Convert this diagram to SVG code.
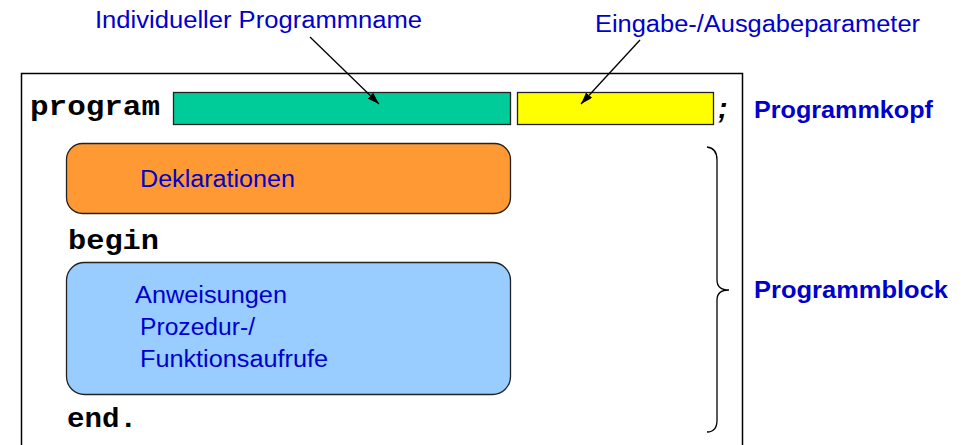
<svg xmlns="http://www.w3.org/2000/svg" width="971" height="445" viewBox="0 0 971 445">
  <style>
    .lbl { font-family: "Liberation Sans", Arial, sans-serif; font-size: 23.5px; fill: #0000cc; }
    .head { font-family: "Liberation Sans", Arial, sans-serif; font-size: 24px; font-weight: bold; fill: #0000cc; }
    .kw { font-family: "Liberation Mono", "Courier New", monospace; font-size: 28px; font-weight: bold; fill: #000; }
    .box { stroke: #222; stroke-width: 1.3; }
    .conn { stroke: #000; stroke-width: 1.3; fill: none; }
  </style>
  <defs>
    <marker id="arrow" viewBox="0 0 12 8" refX="12" refY="4" markerWidth="12" markerHeight="8" markerUnits="userSpaceOnUse" orient="auto">
      <path d="M0,0 L12,4 L0,8 z" fill="#000"/>
    </marker>
  </defs>

  <rect x="0" y="0" width="971" height="445" fill="#fff"/>

  <!-- program frame (open at the bottom) -->
  <g id="frame">
    <path d="M21.5,445 V73.5 H742.5 V445" fill="none" stroke="#000" stroke-width="1.5"/>
  </g>

  <!-- header line -->
  <g id="kw-program">
    <text class="kw" x="30" y="115" textLength="130" lengthAdjust="spacingAndGlyphs">program</text>
  </g>
  <g id="name-field">
    <rect class="box" x="173.5" y="92.5" width="337" height="32" fill="#00cc99"/>
  </g>
  <g id="param-field">
    <rect class="box" x="517.5" y="92.5" width="196" height="32" fill="#ffff00"/>
  </g>
  <g id="semicolon">
    <text x="718" y="118" font-family="Liberation Sans, Arial, sans-serif" font-size="29" font-weight="bold" font-style="italic" fill="#000">;</text>
  </g>

  <!-- block -->
  <g id="declarations">
    <rect class="box" x="66.5" y="143.5" width="444" height="70" rx="16" fill="#ff9933"/>
    <text class="lbl" x="140" y="187" textLength="155" lengthAdjust="spacingAndGlyphs">Deklarationen</text>
  </g>
  <g id="kw-begin">
    <text class="kw" x="68" y="249" textLength="91" lengthAdjust="spacingAndGlyphs">begin</text>
  </g>
  <g id="statements">
    <rect class="box" x="66.5" y="262.5" width="444" height="132" rx="18" fill="#99ccff"/>
    <text class="lbl" x="135" y="303" textLength="152" lengthAdjust="spacingAndGlyphs">Anweisungen</text>
    <text class="lbl" x="140" y="335" textLength="115" lengthAdjust="spacingAndGlyphs">Prozedur-/</text>
    <text class="lbl" x="140" y="367" textLength="188" lengthAdjust="spacingAndGlyphs">Funktionsaufrufe</text>
  </g>
  <g id="kw-end">
    <text class="kw" x="67" y="427" textLength="70" lengthAdjust="spacingAndGlyphs">end.</text>
  </g>

  <!-- annotations -->
  <g id="label-name">
    <text class="lbl" x="95" y="28" textLength="327" lengthAdjust="spacingAndGlyphs">Individueller Programmname</text>
  </g>
  <g id="label-params">
    <text class="lbl" x="595" y="32" textLength="325" lengthAdjust="spacingAndGlyphs">Eingabe-/Ausgabeparameter</text>
  </g>
  <g id="label-head">
    <text class="head" x="754" y="118" textLength="179" lengthAdjust="spacingAndGlyphs">Programmkopf</text>
  </g>
  <g id="label-block">
    <text class="head" x="754" y="298" textLength="194" lengthAdjust="spacingAndGlyphs">Programmblock</text>
  </g>

  <g id="connectors">
    <line class="conn" x1="310" y1="37" x2="379" y2="104" marker-end="url(#arrow)"/>
    <line class="conn" x1="640" y1="40" x2="581" y2="104" marker-end="url(#arrow)"/>
    <!-- curly brace spanning the block -->
    <path class="conn" d="M707,147 Q717,148 717,160 V280 Q717,290 729,290 Q717,290 717,300 V420 Q717,432 707,432"/>
  </g>
</svg>
